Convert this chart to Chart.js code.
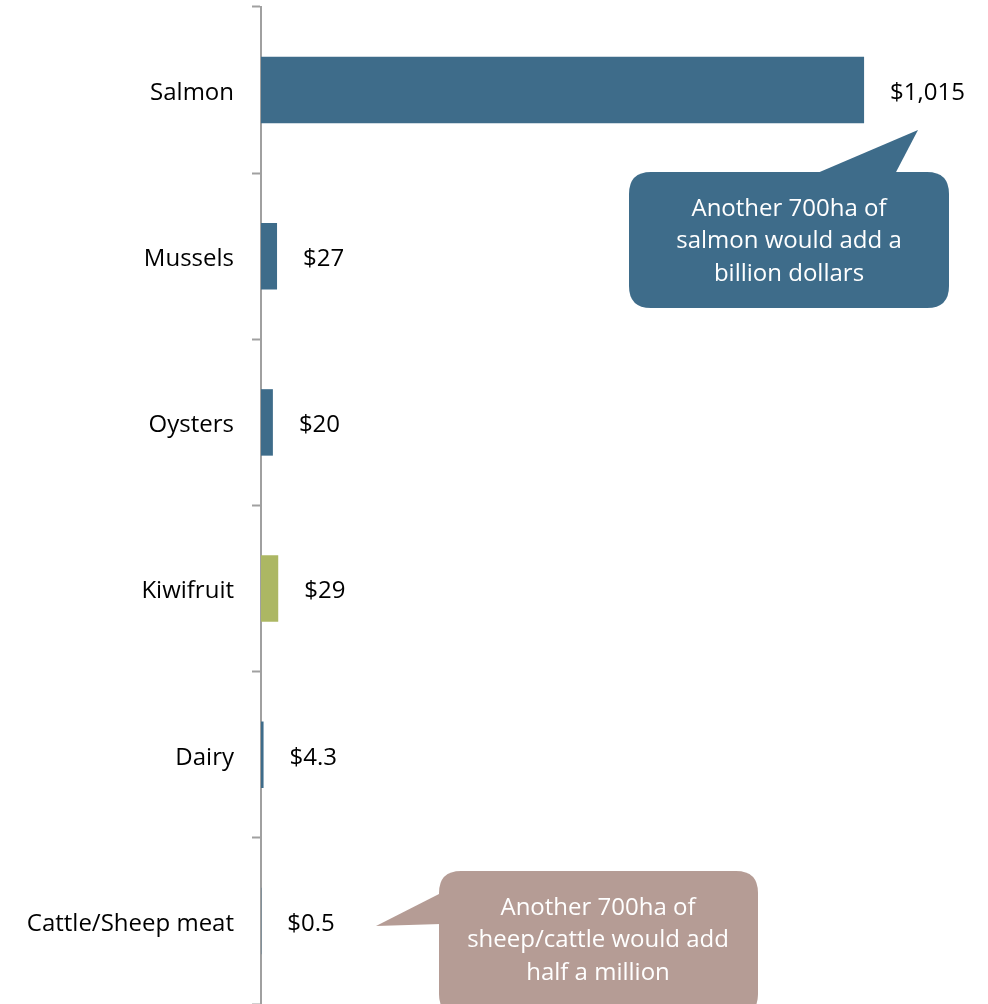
<!DOCTYPE html>
<html>
<head>
<meta charset="utf-8">
<script src="https://cdn.jsdelivr.net/npm/chart.js@4.4.0/dist/chart.umd.min.js"></script>
<style>
  html, body { margin: 0; padding: 0; background: #fff; overflow: hidden; }
  #wrap { width: 988px; height: 1004px; }
</style>
</head>
<body>
<div id="wrap"><canvas id="chart"></canvas></div>
<script>
// value per hectare ($000s)
const categories = ["Salmon", "Mussels", "Oysters", "Kiwifruit", "Dairy", "Cattle/Sheep meat"];
const values = [1015, 27, 20, 29, 4.3, 0.5];
const barColors = ["#3e6c8a", "#3e6c8a", "#3e6c8a", "#acb763", "#3e6c8a", "#3e6c8a"];

const FONT = "'Open Sans', 'DejaVu Sans', sans-serif";

// value labels to the right of each bar
const valueLabels = {
    id: "valueLabels",
    afterDatasetsDraw(chart) {
        const ctx = chart.ctx;
        const meta = chart.getDatasetMeta(0);
        ctx.save();
        ctx.font = "24px " + FONT;
        ctx.fillStyle = "#000";
        ctx.textAlign = "left";
        ctx.textBaseline = "middle";
        meta.data.forEach((bar, i) => {
            ctx.fillText("$" + values[i].toLocaleString("en-US"), bar.x + 26, bar.y + 3);
        });
        ctx.restore();
    }
};

// speech bubble callouts
function bubble(ctx, box, tip, color, lines) {
    const r = 22;
    const { x, y, w, h } = box;
    ctx.save();
    ctx.fillStyle = color;
    ctx.beginPath();
    ctx.moveTo(x + r, y);
    ctx.lineTo(x + w - r, y);
    ctx.quadraticCurveTo(x + w, y, x + w, y + r);
    ctx.lineTo(x + w, y + h - r);
    ctx.quadraticCurveTo(x + w, y + h, x + w - r, y + h);
    ctx.lineTo(x + r, y + h);
    ctx.quadraticCurveTo(x, y + h, x, y + h - r);
    ctx.lineTo(x, y + r);
    ctx.quadraticCurveTo(x, y, x + r, y);
    ctx.closePath();
    ctx.fill();
    ctx.beginPath();
    ctx.moveTo(tip.a[0], tip.a[1]);
    ctx.lineTo(tip.p[0], tip.p[1]);
    ctx.lineTo(tip.b[0], tip.b[1]);
    ctx.closePath();
    ctx.fill();
    ctx.fillStyle = "#fff";
    ctx.font = "24px " + FONT;
    ctx.textAlign = "center";
    ctx.textBaseline = "middle";
    lines.forEach((t, i) => ctx.fillText(t, box.cx, box.ty + i * 32.5));
    ctx.restore();
}

const callouts = {
    id: "callouts",
    afterDraw(chart) {
        const ctx = chart.ctx;
        bubble(ctx, { x: 629, y: 172, w: 320, h: 136, cx: 789, ty: 209 },
            { a: [815, 174], p: [918, 130], b: [895, 174] },
            "#3e6c8a", ["Another 700ha of", "salmon would add a", "billion dollars"]);
        bubble(ctx, { x: 439, y: 871, w: 319, h: 145, cx: 598, ty: 908 },
            { a: [441, 893], p: [376, 926], b: [441, 924] },
            "#b59c95", ["Another 700ha of", "sheep/cattle would add", "half a million"]);
    }
};

new Chart(document.getElementById("chart"), {
    type: "bar",
    data: {
        labels: categories,
        datasets: [{
            data: values,
            backgroundColor: barColors,
            categoryPercentage: 1,
            barPercentage: 0.4,
            minBarLength: 0
        }]
    },
    options: {
        indexAxis: "y",
        responsive: true,
        maintainAspectRatio: false,
        animation: false,
        layout: { padding: { top: 7, right: 14, bottom: 0, left: 0 } },
        plugins: {
            legend: { display: false },
            tooltip: { enabled: false }
        },
        scales: {
            x: {
                display: false,
                min: 0,
                max: 1200
            },
            y: {
                afterFit(scale) {
                    scale.width = 261;
                    scale.paddingTop = 0;
                    scale.paddingBottom = 0;
                },
                border: { display: true, color: "#a0a0a0", width: 2 },
                grid: {
                    drawOnChartArea: false,
                    drawTicks: true,
                    tickLength: 9,
                    tickWidth: 2,
                    tickColor: "#a0a0a0",
                    offset: true
                },
                ticks: {
                    padding: 18,
                    labelOffset: 3,
                    color: "#000",
                    font: { family: FONT, size: 24 }
                }
            }
        }
    },
    plugins: [valueLabels, callouts]
});
</script>
</body>
</html>
